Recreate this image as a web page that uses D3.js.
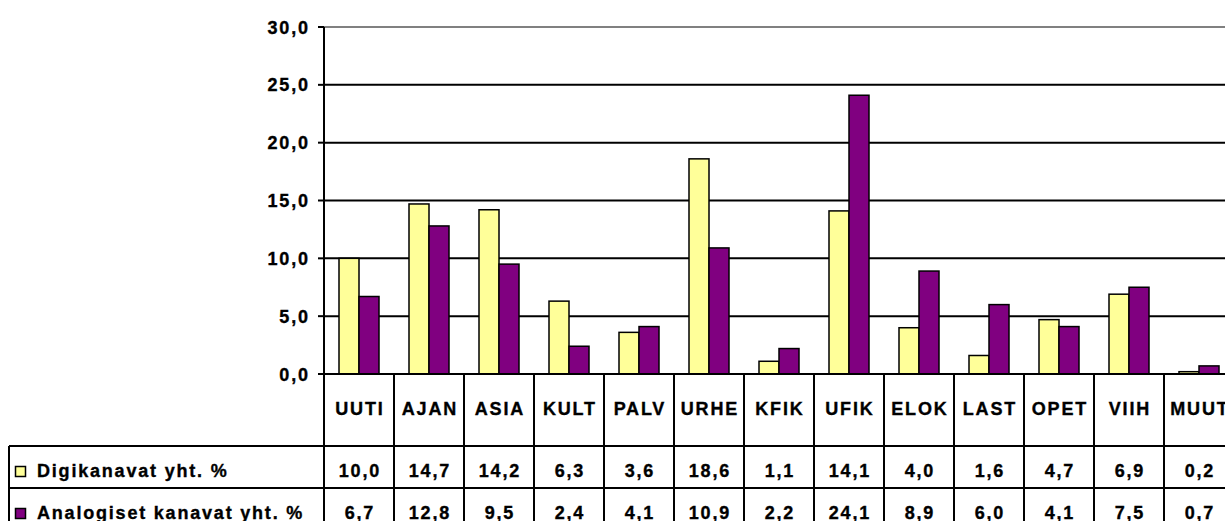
<!DOCTYPE html>
<html>
<head>
<meta charset="utf-8">
<script src="https://cdn.jsdelivr.net/npm/d3@7/dist/d3.min.js"></script>
<style>
  body { margin: 0; background: #fff; overflow: hidden; }
  svg { display: block; font-family: Arial, "Liberation Sans", sans-serif; font-weight: bold; }
  text { stroke: #000; stroke-width: 0.35px; }
</style>
</head>
<body>
<svg id="chart" width="1225" height="521"></svg>
<script>
// Data
const categories = ["UUTI", "AJAN", "ASIA", "KULT", "PALV", "URHE", "KFIK", "UFIK", "ELOK", "LAST", "OPET", "VIIH", "MUUT"];
const seriesNames = ["Digikanavat yht. %", "Analogiset kanavat yht. %"];
const digiValues = [10.0, 14.7, 14.2, 6.3, 3.6, 18.6, 1.1, 14.1, 4.0, 1.6, 4.7, 6.9, 0.2];
const analogValues = [6.7, 12.8, 9.5, 2.4, 4.1, 10.9, 2.2, 24.1, 8.9, 6.0, 4.1, 7.5, 0.7];
const yTicks = [0, 5, 10, 15, 20, 25, 30];

const colors = ["#FFFF99", "#800080"];
const values = [digiValues, analogValues];

const W = 1225, H = 521;
const plotLeft = 324, plotTop = 27, plotBottom = 374;
const band = 70;
const fontSize = 18, ls = 1.8;

const svg = d3.select("#chart");

// Skalaer
const x = d3.scaleBand().domain(categories).range([plotLeft, plotLeft + band * categories.length]).padding(0);
const xs = d3.scaleBand().domain([0, 1]).range([15, 55]).padding(0);
const y = d3.scaleLinear().domain([0, 30]).range([plotBottom, plotTop]);

const fmt = v => d3.format(".1f")(v).replace(".", ",");

// Gitterlinjer
svg.append("g").selectAll("line")
  .data(yTicks.filter(d => d > 0))
  .enter().append("line")
  .attr("x1", plotLeft).attr("x2", W)
  .attr("y1", d => y(d)).attr("y2", d => y(d))
  .attr("stroke", d => d === 30 ? "#808080" : "#000")
  .attr("stroke-width", 2);

// Søjler
const groups = svg.append("g").selectAll("g")
  .data(categories)
  .enter().append("g")
  .attr("transform", d => `translate(${x(d)},0)`);

groups.selectAll("rect")
  .data((d, i) => values.map((vals, s) => ({ s, v: vals[i] })))
  .enter().append("rect")
  .attr("x", d => xs(d.s))
  .attr("width", xs.bandwidth())
  .attr("y", d => y(d.v))
  .attr("height", d => y(0) - y(d.v))
  .attr("fill", d => colors[d.s])
  .attr("stroke", "#000")
  .attr("stroke-width", 1.5);

// Y-akse
const yAxis = svg.append("g");
yAxis.append("line")
  .attr("x1", plotLeft).attr("x2", plotLeft)
  .attr("y1", plotTop).attr("y2", H)
  .attr("stroke", "#000").attr("stroke-width", 2);
yAxis.selectAll(".tick")
  .data(yTicks)
  .enter().append("line")
  .attr("x1", plotLeft - 6).attr("x2", plotLeft)
  .attr("y1", d => y(d)).attr("y2", d => y(d))
  .attr("stroke", "#000").attr("stroke-width", 2);
yAxis.selectAll("text")
  .data(yTicks)
  .enter().append("text")
  .attr("x", plotLeft - 16 + ls)
  .attr("y", d => y(d) + 6.5)
  .attr("text-anchor", "end")
  .attr("font-size", fontSize)
  .attr("letter-spacing", ls)
  .text(fmt);

// X-akse (nul-linje)
svg.append("line")
  .attr("x1", plotLeft).attr("x2", W)
  .attr("y1", y(0)).attr("y2", y(0))
  .attr("stroke", "#000").attr("stroke-width", 2);

// Datatabel
const rowTop = [446, 488];
const table = svg.append("g");

// lodrette linjer
table.selectAll(".v")
  .data(categories)
  .enter().append("line")
  .attr("x1", (d, i) => plotLeft + band * (i + 1))
  .attr("x2", (d, i) => plotLeft + band * (i + 1))
  .attr("y1", plotBottom).attr("y2", H)
  .attr("stroke", "#000").attr("stroke-width", 2);

// vandrette linjer
table.selectAll(".h")
  .data(rowTop)
  .enter().append("line")
  .attr("x1", 9).attr("x2", W)
  .attr("y1", d => d).attr("y2", d => d)
  .attr("stroke", "#000").attr("stroke-width", 2);
table.append("line")
  .attr("x1", 9).attr("x2", 9)
  .attr("y1", rowTop[0]).attr("y2", H)
  .attr("stroke", "#000").attr("stroke-width", 2);

// kategorinavne
table.selectAll(".cat")
  .data(categories)
  .enter().append("text")
  .attr("x", d => x(d) + band / 2 + ls / 2)
  .attr("y", 415)
  .attr("text-anchor", "middle")
  .attr("font-size", fontSize)
  .attr("letter-spacing", ls)
  .text(d => d);

// rækker
const baselines = [477, 519];
seriesNames.forEach((name, s) => {
  const row = table.append("g");
  row.append("rect")
    .attr("x", 15.5).attr("y", baselines[s] - 10.5)
    .attr("width", 10).attr("height", 10)
    .attr("fill", colors[s])
    .attr("stroke", "#000").attr("stroke-width", 1.5);
  row.append("text")
    .attr("x", 37).attr("y", baselines[s])
    .attr("font-size", fontSize)
    .attr("letter-spacing", ls)
    .text(name);
  row.selectAll(".val")
    .data(values[s])
    .enter().append("text")
    .attr("x", (d, i) => x(categories[i]) + band / 2 + ls / 2)
    .attr("y", baselines[s])
    .attr("text-anchor", "middle")
    .attr("font-size", fontSize)
    .attr("letter-spacing", ls)
    .text(fmt);
});
</script>
</body>
</html>
